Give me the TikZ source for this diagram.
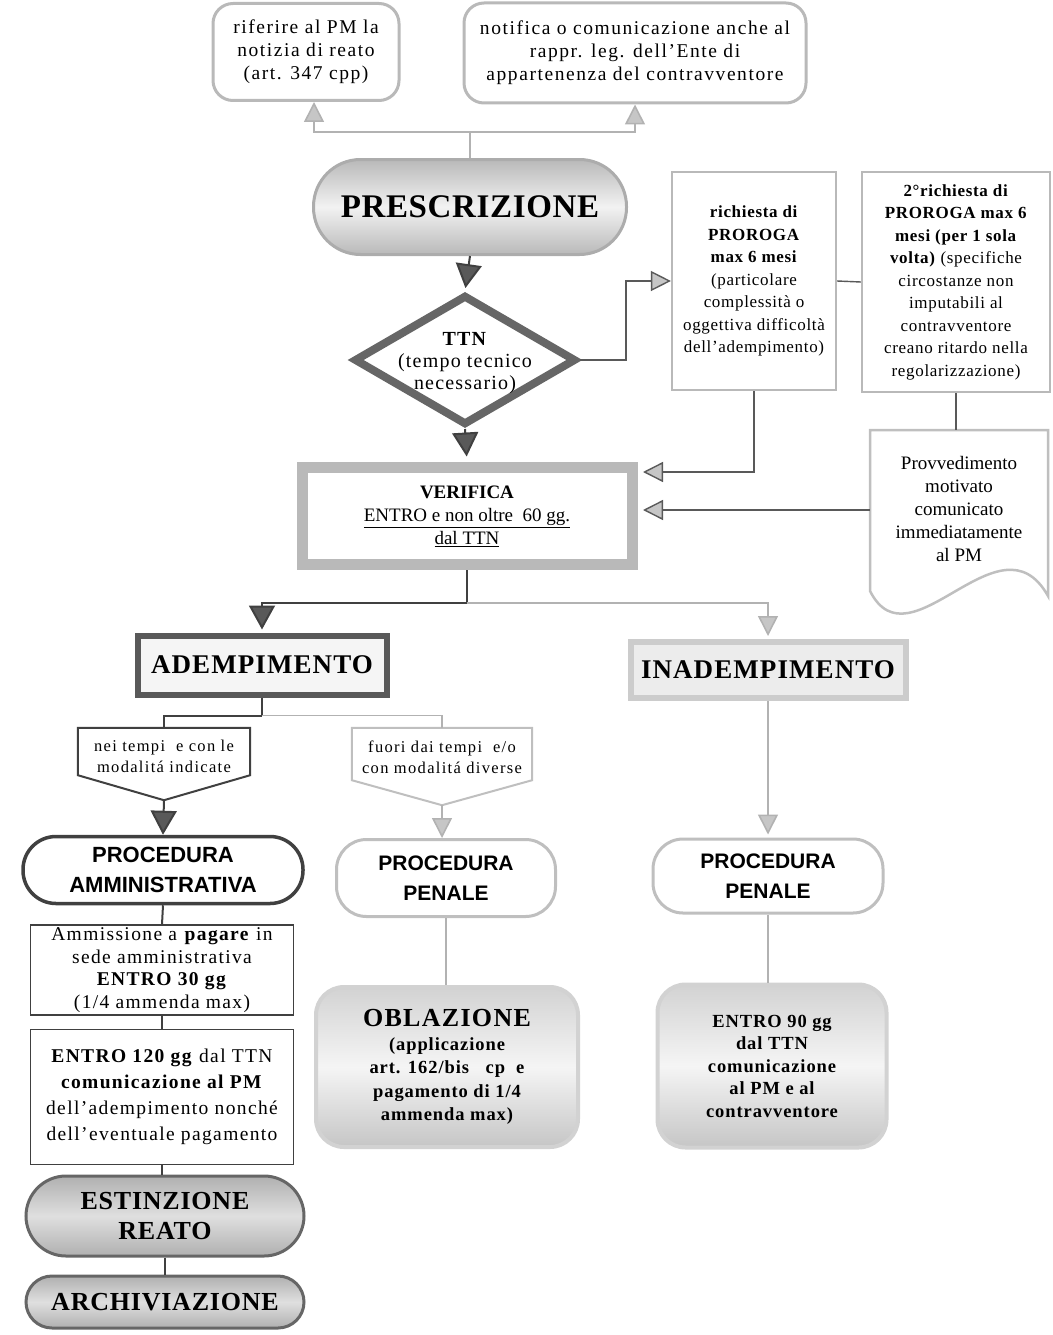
\documentclass[tikz,border=0pt]{standalone}
\usepackage{fontspec}
\setmainfont{Liberation Serif}
\setsansfont{Liberation Sans}
\newfontfamily\lstwo[LetterSpace=2]{Liberation Serif}
\newfontfamily\lsthree[LetterSpace=3]{Liberation Serif}
\newfontfamily\lsfour[LetterSpace=4]{Liberation Serif}
\newfontfamily\lsfive[LetterSpace=5]{Liberation Serif}
\newfontfamily\lssix[LetterSpace=6]{Liberation Serif}
\newfontfamily\lsseven[LetterSpace=7]{Liberation Serif}
\newfontfamily\lseight[LetterSpace=8]{Liberation Serif}
\usetikzlibrary{shapes.geometric,arrows.meta,calc}
\begin{document}
\begin{tikzpicture}[x=1pt,y=-1pt,
  every node/.style={inner sep=0pt, align=center},
  gline/.style={draw=gray!60, line width=1.6pt},
  mline/.style={draw=black!65, line width=1.4pt},
  dline/.style={draw=black!75, line width=2pt},
  gtip/.style={-{Triangle[length=20pt,width=20pt,fill=gray!45]}},
  dtip/.style={-{Triangle[length=24pt,width=26pt,fill=black!65]}},
  topbox/.style={draw=gray!55, line width=3pt, rounded corners=20pt, fill=white},
  presbox/.style={draw=gray!65, line width=3pt, rounded corners=47pt,
     top color=gray!55, bottom color=gray!55, middle color=gray!10},
  diam/.style={diamond, aspect=1.7, draw=black!60, line width=8pt, fill=white},
  probox/.style={draw=gray!55, line width=2.2pt, fill=white},
  verbox/.style={draw=gray!55, line width=11pt, fill=white},
  ademst/.style={draw=black!65, line width=6pt, fill=gray!8},
  inademst/.style={draw=gray!40, line width=6pt, fill=gray!15},
  pentd/.style={draw=black!75, line width=2pt, fill=white},
  pentg/.style={draw=gray!50, line width=2pt, fill=white},
  procd/.style={draw=black!75, line width=3.5pt, rounded corners=33pt, fill=white},
  procg/.style={draw=gray!50, line width=3pt, rounded corners=30pt, fill=white},
  plainbox/.style={draw=black!75, line width=1.3pt, fill=white},
  darkpill/.style={draw=black!60, line width=3pt, top color=gray!62, bottom color=gray!62, middle color=gray!25},
  softbox/.style={draw=gray!35, line width=4pt, rounded corners=28pt, top color=gray!35, bottom color=gray!45, middle color=gray!8},
  provst/.style={draw=gray!50, line width=2.5pt, fill=white}
]
\useasboundingbox (0,0) rectangle (1052,1335);

% top boxes
\node[topbox, minimum width=186pt, minimum height=97pt, font=\lseight\fontsize{19.5}{23}\selectfont] (rif) at (306,52)
  {riferire al PM la\\notizia di reato\\(art. 347 cpp)};
\node[topbox, minimum width=342pt, minimum height=100pt, font=\lseight\fontsize{19.5}{23}\selectfont] (notif) at (635,53)
  {notifica o comunicazione anche al\\rappr. leg. dell’Ente di\\appartenenza del contravventore};

% prescrizione
\node[presbox, minimum width=313pt, minimum height=95pt, font=\lstwo\fontsize{33}{38}\selectfont\bfseries] (pres) at (470,207) {PRESCRIZIONE};

% TTN diamond
\node[diam, minimum width=222pt, minimum height=130pt] (ttn) at (465,360) {};
\node[font=\lssix\fontsize{20}{22}\selectfont] (ttntxt) at (465,363) {\textbf{TTN}\\(tempo tecnico\\necessario)};

% proroga boxes
\node[probox, minimum width=164pt, minimum height=218pt, font=\lsfour\fontsize{17}{22.5}\selectfont] (p1) at (754,281)
  {\textbf{richiesta di}\\\textbf{PROROGA}\\\textbf{max 6 mesi}\\(particolare\\complessità o\\oggettiva difficoltà\\dell’adempimento)};
\node[probox, minimum width=188pt, minimum height=220pt, font=\lsfour\fontsize{17}{22.5}\selectfont] (p2) at (956,282)
  {\textbf{2°richiesta di}\\\textbf{PROROGA max 6}\\\textbf{mesi (per 1 sola}\\\textbf{volta)} (specifiche\\circostanze non\\imputabili al\\contravventore\\creano ritardo nella\\regolarizzazione)};

% provvedimento (document shape)
\node[minimum width=178pt, minimum height=160pt] (prov) at (959,510) {};
\draw[provst] (870,430) -- (1048,430) -- (1048,596) .. controls (1000,510) and (910,670) .. (870,591) -- cycle;
\node[font=\fontsize{19}{23}\selectfont] (provtxt) at (959,509)
  {Provvedimento\\motivato\\comunicato\\immediatamente\\al PM};

% verifica
\node[verbox, minimum width=330pt, minimum height=97pt, font=\fontsize{19}{23}\selectfont] (ver) at (467,516)
  {\textbf{VERIFICA}\\\underline{ENTRO e non oltre\ \ 60 gg.}\\\underline{dal TTN}};

% adempimento / inadempimento
\node[ademst, minimum width=249pt, minimum height=59pt, font=\lsfour\fontsize{27}{30}\selectfont\bfseries] (adem) at (262,665) {ADEMPIMENTO};
\node[inademst, minimum width=275pt, minimum height=56pt, font=\lsfour\fontsize{27}{30}\selectfont\bfseries] (inadem) at (768,670) {INADEMPIMENTO};

% pentagon labels
\node[minimum width=172pt, minimum height=47pt] (nei) at (164,751.5) {};
\coordinate (neitip) at ([yshift=-25pt]nei.south);
\draw[pentd] (nei.north west) -- (nei.north east) -- (nei.south east) -- (neitip) -- (nei.south west) -- cycle;
\node[font=\lseight\fontsize{16.5}{21}\selectfont] (neitxt) at (164,756) {nei tempi\ \ e con le\\modalitá indicate};

\node[minimum width=180pt, minimum height=52pt] (fuori) at (442,754) {};
\coordinate (fuoritip) at ([yshift=-25pt]fuori.south);
\draw[pentg] (fuori.north west) -- (fuori.north east) -- (fuori.south east) -- (fuoritip) -- (fuori.south west) -- cycle;
\node[font=\lseight\fontsize{16.5}{21}\selectfont] (fuoritxt) at (442,757) {fuori dai tempi\ \ e/o\\con modalitá diverse};

% procedure
\node[procd, minimum width=280pt, minimum height=67pt, font=\fontsize{22}{30}\selectfont\sffamily\bfseries] (pa) at (163,870) {PROCEDURA\\AMMINISTRATIVA};
\node[procg, minimum width=219pt, minimum height=77pt, font=\fontsize{21}{30}\selectfont\sffamily\bfseries] (pp1) at (446,878) {PROCEDURA\\PENALE};
\node[procg, minimum width=230pt, minimum height=74pt, font=\fontsize{21}{30}\selectfont\sffamily\bfseries] (pp2) at (768,876) {PROCEDURA\\PENALE};

% left column
\node[plainbox, minimum width=263pt, minimum height=90pt, font=\lsseven\fontsize{19.5}{22.5}\selectfont] (amm) at (162,970)
  {Ammissione a \textbf{pagare} in\\sede amministrativa\\\textbf{ENTRO 30 gg}\\(1/4 ammenda max)};
\node[plainbox, minimum width=263pt, minimum height=135pt, font=\lsseven\fontsize{19.5}{26}\selectfont] (e120) at (162,1097)
  {\textbf{ENTRO 120 gg} dal TTN\\\textbf{comunicazione al PM}\\dell’adempimento nonché\\dell’eventuale pagamento};
\node[darkpill, rounded corners=40pt, minimum width=278pt, minimum height=80pt, font=\lsthree\fontsize{26}{30}\selectfont\bfseries] (est) at (165,1216) {ESTINZIONE\\REATO};
\node[darkpill, rounded corners=26pt, minimum width=278pt, minimum height=52pt, font=\lsthree\fontsize{26}{28}\selectfont\bfseries] (arch) at (165,1302) {ARCHIVIAZIONE};

% bottom soft boxes
\node[softbox, minimum width=262pt, minimum height=160pt, font=\lsfive\fontsize{18.5}{23.5}\selectfont\bfseries] (obl) at (447,1067)
  {{\fontsize{26}{30}\selectfont OBLAZIONE}\\(applicazione\\art. 162/bis\ \ \ cp\ \ e\\pagamento di 1/4\\ammenda max)};
\node[softbox, minimum width=229pt, minimum height=163pt, font=\lsfive\fontsize{18.5}{22.5}\selectfont\bfseries] (e90) at (772,1066)
  {ENTRO 90 gg\\dal TTN\\comunicazione\\al PM e al\\contravventore};

% connectors
\draw[gline] (pres.north) -- ++(0,-26) coordinate (tj);
\draw[gline,gtip] (tj) -| ([xshift=8pt]rif.south);
\draw[gline,gtip] (tj) -| (notif.south);
\draw[dline,dtip,shorten >=3pt] (pres.south) -- (ttn.north);
\draw[dline,dtip,shorten >=5.5pt] (ttn.south) -- (ver.north);
\draw[mline,gtip] (ttn.east) -- ++(46,0) |- (p1.west);
\draw[mline] (p1.east) -- (p2.west);
\draw[mline,gtip,shorten >=5.5pt] (p1.south) |- ([yshift=44pt]ver.east);
\draw[mline] (p2.south) -- (p2.south |- prov.north);
\draw[mline,gtip,shorten >=5.5pt] (prov.west) -- (prov.west -| ver.east);
\draw[dline] (ver.south) -- ++(0,33) coordinate (vj);
\draw[dline,dtip,shorten >=3pt] (vj) -| (adem.north);
\draw[gline,gtip,shorten >=3pt] (vj) -| (inadem.north);
\draw[dline] (adem.south) -- ++(0,18) coordinate (aj);
\draw[dline] (aj) -| (nei.north);
\draw[gline] (aj) -| (fuori.north);
\draw[dline,dtip] (neitip) -- (pa.north);
\draw[gline,gtip] (fuoritip) -- (fuoritip |- pp1.north);
\draw[gline,gtip,shorten >=3pt] (inadem.south) -- (inadem.south |- pp2.north);
\draw[dline] (pa.south) -- (amm.north);
\draw[dline] (amm.south) -- (e120.north);
\draw[dline] (e120.south) -- (e120.south |- est.north);
\draw[dline] (est.south) -- (est.south |- arch.north);
\draw[gline] (pp1.south) -- (pp1.south |- obl.north);
\draw[gline] (pp2.south) -- (pp2.south |- e90.north);
\end{tikzpicture}
\end{document}
